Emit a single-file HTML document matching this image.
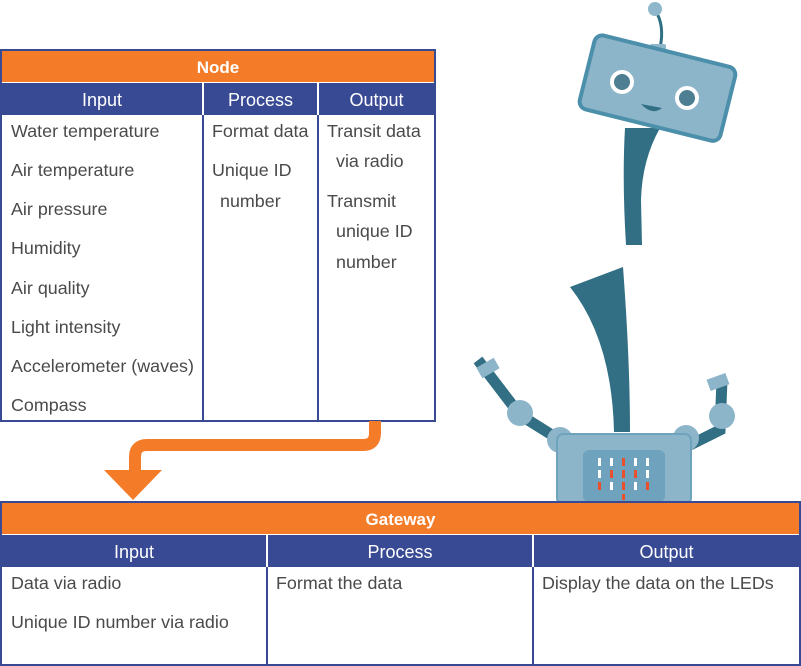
<!DOCTYPE html>
<html><head><style>
body{margin:0;width:801px;height:666px;background:#fff;position:relative;overflow:hidden;font-family:"Liberation Sans",sans-serif}
.a{position:absolute;box-sizing:border-box}
.or{background:#f47c29;color:#fff;font-size:17px;font-weight:bold;text-align:center}
.bl{background:#394a94;color:#fff;font-size:18px;text-align:center}
.t{position:absolute;font-size:17.9px;color:#4a4a4a;white-space:nowrap;line-height:22px}
</style></head><body>
<div class="a" style="left:0;top:49px;width:436px;height:373px;border:2px solid #394a94"></div>
<div class="a or" style="left:2px;top:51px;width:432px;height:31px;line-height:33px">Node</div>
<div class="a bl" style="left:2px;top:83px;width:432px;height:32px"></div>
<div class="a bl" style="left:2px;top:83px;width:200px;height:32px;line-height:34px">Input</div>
<div class="a bl" style="left:204px;top:83px;width:113px;height:32px;line-height:34px">Process</div>
<div class="a bl" style="left:319px;top:83px;width:115px;height:32px;line-height:34px">Output</div>
<div class="a" style="left:202px;top:83px;width:2px;height:338px;background:#394a94"></div>
<div class="a" style="left:317px;top:83px;width:2px;height:338px;background:#394a94"></div>
<div class="a" style="left:202px;top:83px;width:2px;height:32px;background:#fff"></div>
<div class="a" style="left:317px;top:83px;width:2px;height:32px;background:#fff"></div>
<div class="t" style="left:11px;top:120px">Water temperature</div>
<div class="t" style="left:11px;top:159px">Air temperature</div>
<div class="t" style="left:11px;top:198px">Air pressure</div>
<div class="t" style="left:11px;top:237px">Humidity</div>
<div class="t" style="left:11px;top:277px">Air quality</div>
<div class="t" style="left:11px;top:316px">Light intensity</div>
<div class="t" style="left:11px;top:355px">Accelerometer (waves)</div>
<div class="t" style="left:11px;top:394px">Compass</div>
<div class="t" style="left:212px;top:120px">Format data</div>
<div class="t" style="left:212px;top:159px">Unique ID</div>
<div class="t" style="left:220px;top:190px">number</div>
<div class="t" style="left:327px;top:120px">Transit data</div>
<div class="t" style="left:336px;top:150px">via radio</div>
<div class="t" style="left:327px;top:190px">Transmit</div>
<div class="t" style="left:336px;top:220px">unique ID</div>
<div class="t" style="left:336px;top:251px">number</div>
<svg class="a" style="left:0;top:0" width="801" height="666">
<path d="M375 421 V433 Q375 445 363 445 H147 Q135 445 135 457 V472" fill="none" stroke="#f47c29" stroke-width="12"/>
<polygon points="104,470 162,470 133,500" fill="#f47c29"/>
<g>
<path d="M655 10 Q665 25 660 48" stroke="#2f6f84" stroke-width="3" fill="none"/>
<circle cx="655" cy="9" r="7" fill="#8fb7cb"/>
<rect x="650" y="44" width="16" height="8" rx="2" fill="#8fb7cb"/>
<path d="M625 128 L660 128 Q642 160 641 200 L642 245 L626 245 Q622 180 625 128Z" fill="#326f84"/>
<g transform="rotate(14 657 88)">
<rect x="585" y="50" width="145" height="76" rx="8" fill="#8db5ca" stroke="#4c8fab" stroke-width="4"/>
</g>
<circle cx="622" cy="82" r="12" fill="#fff"/><circle cx="622" cy="82" r="8" fill="#4d7e92"/>
<circle cx="687" cy="98" r="12" fill="#fff"/><circle cx="687" cy="98" r="8" fill="#4d7e92"/>
<path d="M641 104 Q652 116 662 108Z" fill="#326f84"/>
<path d="M570 287 L623 267 Q630 360 630 432 L614 432 Q612 340 570 287Z" fill="#326f84"/>
<path d="M478 360 L520 415 L560 440" stroke="#326f84" stroke-width="11" fill="none"/>
<path d="M722 380 L720 430 L690 445" stroke="#326f84" stroke-width="11" fill="none"/>
<circle cx="520" cy="413" r="13" fill="#8db5ca"/><circle cx="722" cy="416" r="13" fill="#8db5ca"/>
<circle cx="560" cy="440" r="13" fill="#8db5ca"/><circle cx="686" cy="438" r="13" fill="#8db5ca"/>
<rect x="478" y="362" width="20" height="12" fill="#8db5ca" transform="rotate(-30 488 368)"/>
<rect x="708" y="376" width="20" height="12" fill="#8db5ca" transform="rotate(-20 718 382)"/>
<rect x="557" y="434" width="134" height="70" rx="6" fill="#8db5ca" stroke="#6fa3bd" stroke-width="2"/>
<rect x="583" y="450" width="82" height="52" rx="6" fill="#6fa3bd"/>
<g fill="#fff"><rect x="598" y="458" width="3" height="8"/><rect x="610" y="458" width="3" height="8"/><rect x="634" y="458" width="3" height="8"/><rect x="646" y="458" width="3" height="8"/>
<rect x="598" y="470" width="3" height="8"/><rect x="646" y="470" width="3" height="8"/><rect x="610" y="482" width="3" height="8"/><rect x="634" y="482" width="3" height="8"/></g>
<g fill="#e8502e"><rect x="622" y="458" width="3" height="8"/><rect x="610" y="470" width="3" height="8"/><rect x="622" y="470" width="3" height="8"/><rect x="634" y="470" width="3" height="8"/><rect x="598" y="482" width="3" height="8"/><rect x="622" y="482" width="3" height="8"/><rect x="646" y="482" width="3" height="8"/><rect x="622" y="494" width="3" height="6"/></g>
</g>
</svg>
<div class="a" style="left:0;top:501px;width:801px;height:165px;border:2px solid #394a94"></div>
<div class="a or" style="left:2px;top:503px;width:797px;height:31px;line-height:33px">Gateway</div>
<div class="a bl" style="left:2px;top:535px;width:797px;height:32px"></div>
<div class="a bl" style="left:2px;top:535px;width:264px;height:32px;line-height:34px">Input</div>
<div class="a bl" style="left:268px;top:535px;width:264px;height:32px;line-height:34px">Process</div>
<div class="a bl" style="left:534px;top:535px;width:265px;height:32px;line-height:34px">Output</div>
<div class="a" style="left:266px;top:535px;width:2px;height:131px;background:#394a94"></div>
<div class="a" style="left:532px;top:535px;width:2px;height:131px;background:#394a94"></div>
<div class="a" style="left:266px;top:535px;width:2px;height:32px;background:#fff"></div>
<div class="a" style="left:532px;top:535px;width:2px;height:32px;background:#fff"></div>
<div class="t" style="left:11px;top:572px">Data via radio</div>
<div class="t" style="left:11px;top:611px">Unique ID number via radio</div>
<div class="t" style="left:276px;top:572px">Format the data</div>
<div class="t" style="left:542px;top:572px">Display the data on the LEDs</div>
</body></html>
